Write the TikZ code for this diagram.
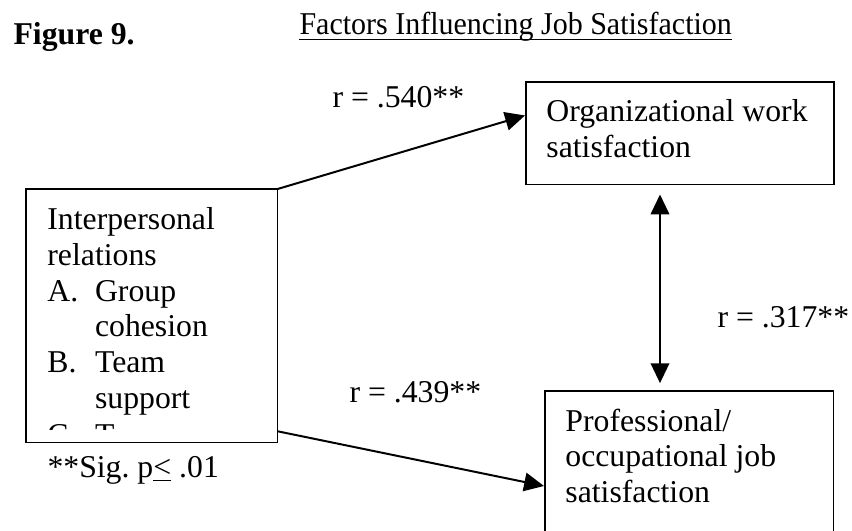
\documentclass[tikz,border=0pt]{standalone}
\usepackage{fontspec}
\usepackage{graphicx}
\setmainfont{Liberation Serif}
\usetikzlibrary{arrows.meta,calc}

\newcommand{\boxtext}[3]{\parbox[c][#2][t]{#1}{\raggedright #3}}
\newcommand{\itm}[1]{\makebox[18pt][l]{#1}}

\begin{document}
\begin{tikzpicture}[x=0.378pt,y=-0.378pt,
  box/.style={draw,line width=0.6pt,anchor=north west,inner xsep=7.8pt,inner ysep=6.8pt},
  lbl/.style={anchor=base west,inner sep=0pt},
  conn/.style={line width=0.75pt,-{Triangle[length=7.5pt,width=7pt]}},
  both/.style={line width=0.75pt,{Triangle[length=7.5pt,width=7pt]}-{Triangle[length=7.5pt,width=7pt]}}]
\tikzstyle{every node}+=[font=\fontsize{12}{13.5}\selectfont]
\useasboundingbox (0,0) rectangle (852,531);
\clip (0,0) rectangle (852,531);
\node[lbl,font=\fontsize{12}{13.5}\selectfont\bfseries] (fig) at (13,45) {Figure 9.};
\node[lbl] (title) at (299,35) {\scalebox{0.945}[1]{Factors Influencing Job Satisfaction}};
\draw[line width=0.6pt] ([yshift=-1.7pt]title.base west) -- ([yshift=-1.7pt]title.base east);
\node[box] (org) at (525,81) {\boxtext{100.8pt}{25.3pt}{Organizational~work\\satisfaction}};
\node[box] (prof) at (544,390) {\boxtext{93.6pt}{50.7pt}{Professional/\\occupational job\\satisfaction}};
\begin{scope}
\clip (26,189) rectangle (276,429);
\node[box,draw=none] (rel) at (26,189) {\boxtext{78.9pt}{81.7pt}{Interpersonal\\relations\\\itm{A.}Group\\\hspace*{18pt}cohesion\\\itm{B.}Team\\\hspace*{18pt}support\\[0.5pt]\itm{C.}T}};
\end{scope}
\draw[line width=0.6pt] (rel.north west) rectangle (rel.south east);
\node[lbl] (r1) at (332,108) {r = .540**};
\node[lbl] (r2) at (349,403) {r = .439**};
\node[lbl] (r3) at (717,328) {r = .317**};
\node[lbl] (sig) at (47,477) {**Sig.\ p\underline{<} .01};
\draw[conn] (rel.north east) -- ($(org.north west)!0.33!(org.south west)$);
\draw[conn] ($(rel.south east)!0.045!(rel.north east)$) -- ($(prof.north west)+(0,96)$);
\coordinate (vx) at (660,0);
\draw[both,shorten <=3.4pt,shorten >=2.6pt] (org.south -| vx) -- (prof.north -| vx);
\end{tikzpicture}
\end{document}
